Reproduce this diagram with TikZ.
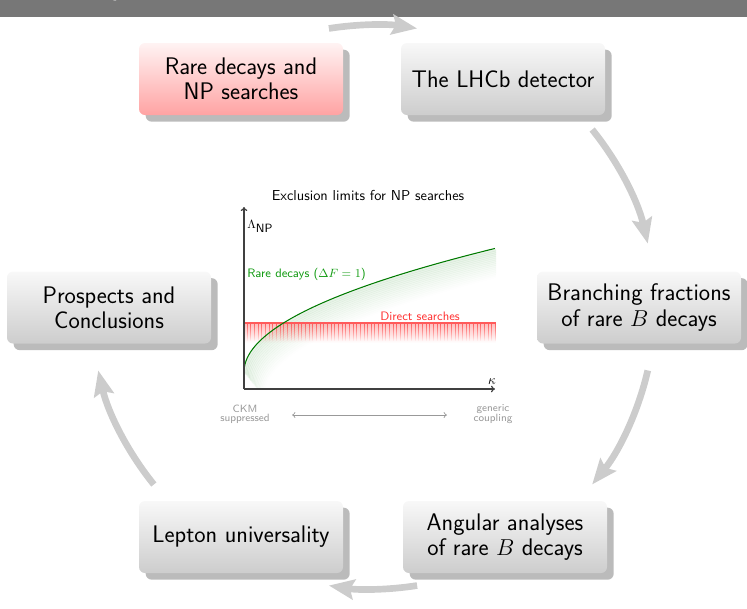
\documentclass[tikz,border=0pt]{standalone}
\usetikzlibrary{arrows.meta,shadows,fadings}
\definecolor{bannergray}{HTML}{777777}
\definecolor{cyclegray}{HTML}{CCCCCC}
\definecolor{boxtop}{HTML}{F8F8F8}
\definecolor{boxbot}{HTML}{CDCDCD}
\definecolor{shadowgray}{HTML}{BBBBBB}
\definecolor{pinktop}{HTML}{FFF3F3}
\definecolor{pinkbot}{HTML}{FFA3A3}
\definecolor{curvegreen}{HTML}{007A00}
\definecolor{labelgreen}{HTML}{109A10}
\definecolor{linered}{HTML}{FF5A5A}
\definecolor{labelred}{HTML}{FF3333}
\definecolor{axisgray}{HTML}{404040}
\definecolor{notegray}{HTML}{999999}
\tikzfading[name=fadedown, top color=transparent!0, bottom color=transparent!100]
\tikzset{
  stagebox/.style={rounded corners=4.5pt, minimum width=153pt, minimum height=54pt,
    inner sep=0pt, align=center, font=\sffamily\fontsize{18}{19}\selectfont,
    top color=boxtop, bottom color=boxbot,
    general shadow={fill=shadowgray, shadow xshift=5pt, shadow yshift=-5pt}},
  activebox/.style={stagebox, top color=pinktop, bottom color=pinkbot},
  cyclearrow/.style={draw=cyclegray, line width=5pt,
    -{Stealth[length=19pt,width=15pt,inset=3pt]}, looseness=0.86},
  axisline/.style={draw=axisgray, line width=0.9pt},
  smalllabel/.style={inner sep=0pt, font=\sffamily\fontsize{9.2}{11}\selectfont},
  notelabel/.style={inner sep=0pt, align=center, text=notegray, font=\sffamily\fontsize{7.9}{7}\selectfont},
}
\begin{document}
\begin{tikzpicture}[x=0.75pt,y=-0.75pt]
\useasboundingbox (0,0) rectangle (747,608);
\clip (0,0) rectangle (747,608);
% banner
\fill[bannergray] (0,0) rectangle (747,16.5);
\node[anchor=base west, inner sep=0pt, text=white, font=\sffamily\fontsize{20}{24}\selectfont] (title) at (10,-5) {Rare decays};

% cycle arrows
\foreach \nm/\a/\b/\bd in {a1/99/81/9, a2/39/13/13, a3/-13/-39/13, a4/-81/-99/9, a5/-141/-167/13} {
  \coordinate (\nm s) at ({373+282*cos(\a)},{307-282*sin(\a)});
  \coordinate (\nm e) at ({373+282*cos(\b)},{307-282*sin(\b)});
  \draw[cyclearrow] (\nm s) to[bend left=\bd] (\nm e);
}

% stage nodes
\node[activebox] (rare) at (241,79) {Rare decays and\\NP searches};
\node[stagebox] (lhcb) at (503,79) {The LHCb detector};
\node[stagebox] (bf) at (639,307.5) {Branching fractions\\of rare $B$ decays};
\node[stagebox] (ang) at (505,537) {Angular analyses\\of rare $B$ decays};
\node[stagebox] (lu) at (241,537) {Lepton universality};
\node[stagebox] (pc) at (109,307.5) {Prospects and\\Conclusions};

% plot
\node[inner sep=0pt, font=\sffamily\fontsize{10.8}{12}\selectfont] (ptitle) at (368,195) {Exclusion limits for NP searches};
\coordinate (O) at (244,389);
\coordinate (ytip) at (244,207);
\coordinate (xtip) at (495,389);
\begin{scope}
  \clip (244,200) rectangle (496,389);
  \foreach \k [evaluate=\k as \op using 0.10*(1-\k/17)] in {1,...,16} {
    \draw[curvegreen, line width=1.6pt, opacity=\op]
      plot[domain=0:15.84, samples=40, variable=\u] ({244+\u*\u+1.2*\k},{372-7.8*\u+1.5*\k});
  }
\end{scope}
\fill[linered, path fading=fadedown, fill opacity=0.4] (244,323) rectangle (496,343);
\draw[linered, line width=0.4pt, path fading=fadedown]
  foreach \i in {0,...,68} {({247+3.65*\i},323) -- ++(0,18)};
\coordinate (ds1) at (244,323);
\coordinate (ds2) at (496,323);
\draw[linered, line width=0.9pt] (ds1) -- (ds2);
\draw[curvegreen, line width=0.8pt]
  plot[domain=0:15.84, samples=60, variable=\u] ({244+\u*\u},{372-7.8*\u});
\draw[axisline, -{To[length=3pt,width=5pt]}] (O) -- (ytip);
\draw[axisline, -{To[length=3pt,width=5pt]}] (O) -- (xtip);
\node[anchor=west, inner sep=0pt, font=\fontsize{9}{11}\selectfont] (lam) at (247,226) {$\Lambda_{\textsf{NP}}$};
\node[inner sep=0pt, font=\fontsize{10}{11}\selectfont] (kap) at (492,382) {$\kappa$};
\node[smalllabel, anchor=west, text=labelgreen] (rdl) at (247,274) {Rare decays ($\Delta F = 1$)};
\node[smalllabel, text=labelred] (dsl) at (420,316) {Direct searches};
\node[notelabel] (ckm) at (245,414) {CKM\\suppressed};
\node[notelabel] (gen) at (493,414) {generic\\coupling};
\coordinate (dl) at (292,415);
\coordinate (dr) at (447,415);
\draw[notegray, line width=0.5pt, {To[length=2.5pt,width=4.5pt]}-{To[length=2.5pt,width=4.5pt]}] (dl) -- (dr);
\end{tikzpicture}
\end{document}
